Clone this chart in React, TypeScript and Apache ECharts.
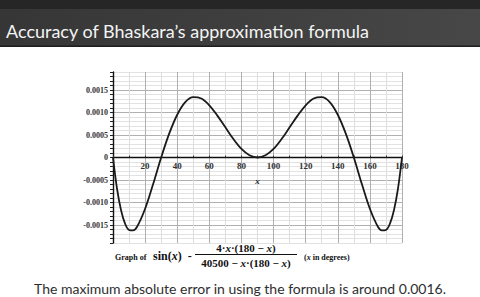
import React, { useEffect, useRef } from "react";
import * as echarts from "echarts";

// Degrees (x) and error values
const xDegrees = [0, 2.5, 5, 7.5, 10, 12.5, 15, 20, 25, 30, 35, 40, 45, 50, 55, 60, 65, 70, 75, 80, 85, 90,
  95, 100, 105, 110, 115, 120, 125, 130, 135, 140, 145, 150, 155, 160, 165, 167.5, 170, 172.5, 175, 177.5, 180];
const errorValues = [0, -0.00069, -0.00117, -0.00147, -0.00161, -0.00162, -0.00154, -0.00114, -0.00059, 0,
  0.00053, 0.00095, 0.00123, 0.00134, 0.00131, 0.00116, 0.00093, 0.00067, 0.00041, 0.00019, 0.00005, 0,
  0.00005, 0.00019, 0.00041, 0.00067, 0.00093, 0.00116, 0.00131, 0.00134, 0.00123, 0.00095, 0.00053, 0,
  -0.00059, -0.00114, -0.00154, -0.00162, -0.00161, -0.00147, -0.00117, -0.00069, 0];

const titleText = "Accuracy of Bhaskara\u2019s approximation formula";
const captionText = "The maximum absolute error in using the formula is around 0.0016.";

export default function App() {
  const ref = useRef<HTMLDivElement>(null);
  useEffect(() => {
    if (!ref.current) return;
    const chart = echarts.init(ref.current, undefined, { renderer: "svg" });
    const seriesData = xDegrees.map((x, i) => [x, errorValues[i]]);
    const serif = "'Liberation Serif', 'DejaVu Serif', serif";
    chart.setOption({
      animation: false,
      backgroundColor: "#ffffff",
      grid: { left: 113, top: 72, width: 289, height: 171 },
      xAxis: {
        type: "value",
        min: 0,
        max: 180,
        interval: 10,
        position: "bottom",
        offset: -85.5,
        name: "x",
        nameLocation: "middle",
        nameGap: 19,
        nameTextStyle: { fontFamily: serif, fontStyle: "italic", fontWeight: "bold", fontSize: 9, color: "#222" },
        axisLine: { onZero: false, lineStyle: { color: "#111", width: 1.4 } },
        axisTick: { show: true, length: 2, inside: true, lineStyle: { color: "#333" } },
        axisLabel: {
          margin: 4,
          fontFamily: serif,
          fontSize: 9,
          fontWeight: "bold",
          color: "#333",
          formatter: (v: number) => (v !== 0 && Math.round(v) % 20 === 0 ? String(Math.round(v)) : ""),
        },
        splitLine: { show: true, lineStyle: { color: ["#b0b0b0", "#dedede"], width: 1 } },
      },
      yAxis: {
        type: "value",
        min: -0.0019,
        max: 0.0019,
        interval: 0.0001,
        axisLine: { show: true, lineStyle: { color: "#111", width: 1.4 } },
        axisTick: { show: true, length: 3, lineStyle: { color: "#222" } },
        axisLabel: {
          margin: 5,
          fontFamily: serif,
          fontSize: 8,
          fontWeight: "bold",
          color: "#333",
          formatter: (v: number) => {
            const n = Math.round(v * 10000);
            if (n % 5 !== 0) return "";
            if (n === 0) return "0";
            return (n / 10000).toFixed(4);
          },
        },
        splitLine: {
          show: true,
          lineStyle: { color: ["#e2e2e2", "#e2e2e2", "#e2e2e2", "#e2e2e2", "#b0b0b0"], width: 1 },
        },
      },
      series: [
        {
          type: "line",
          data: seriesData,
          smooth: 0.35,
          showSymbol: false,
          lineStyle: { color: "#1a1a1a", width: 1.8 },
        },
      ],
      graphic: [
        { type: "rect", shape: { x: 0, y: 0, width: 480, height: 9 }, style: { fill: "#262626" } },
        {
          type: "rect",
          shape: { x: 0, y: 9, width: 480, height: 37 },
          style: {
            fill: new echarts.graphic.LinearGradient(0, 0, 1, 0, [
              { offset: 0, color: "#363636" },
              { offset: 1, color: "#474747" },
            ]),
          },
        },
        { type: "rect", shape: { x: 0, y: 45.5, width: 480, height: 1.5 }, style: { fill: "#1e1e1e" } },
        {
          type: "text",
          x: 6,
          y: 31,
          style: {
            text: titleText,
            fill: "#f4f4f4",
            font: "18px Lato, 'Open Sans', sans-serif",
            verticalAlign: "middle",
          },
        },
        {
          type: "text",
          x: 115,
          y: 257,
          style: { text: "Graph of", fill: "#111", font: `bold 8px ${serif}`, verticalAlign: "middle" },
        },
        {
          type: "text",
          x: 153,
          y: 256,
          style: {
            text: "sin({i|x})  -",
            fill: "#111",
            font: `bold 12px ${serif}`,
            verticalAlign: "middle",
            rich: { i: { fontStyle: "italic", fontWeight: "bold", fontSize: 12, fontFamily: serif } },
          },
        },
        {
          type: "text",
          x: 246,
          y: 247.5,
          style: {
            text: "4\u00b7{i|x}\u00b7(180 \u2212 {i|x})",
            fill: "#111",
            font: `bold 11px ${serif}`,
            align: "center",
            verticalAlign: "middle",
            rich: { i: { fontStyle: "italic", fontWeight: "bold", fontSize: 11, fontFamily: serif } },
          },
        },
        { type: "line", shape: { x1: 195, y1: 254.5, x2: 297, y2: 254.5 }, style: { stroke: "#111", lineWidth: 1 } },
        {
          type: "text",
          x: 246,
          y: 263,
          style: {
            text: "40500 \u2212 {i|x}\u00b7(180 \u2212 {i|x})",
            fill: "#111",
            font: `bold 11px ${serif}`,
            align: "center",
            verticalAlign: "middle",
            rich: { i: { fontStyle: "italic", fontWeight: "bold", fontSize: 11, fontFamily: serif } },
          },
        },
        {
          type: "text",
          x: 304,
          y: 257,
          style: {
            text: "({i|x} in degrees)",
            fill: "#111",
            font: `bold 8px ${serif}`,
            verticalAlign: "middle",
            rich: { i: { fontStyle: "italic", fontWeight: "bold", fontSize: 8, fontFamily: serif } },
          },
        },
        {
          type: "text",
          x: 240,
          y: 288,
          style: {
            text: captionText,
            fill: "#2e2e2e",
            font: "14px Lato, 'Open Sans', sans-serif",
            align: "center",
            verticalAlign: "middle",
          },
        },
      ],
    });
    return () => chart.dispose();
  }, []);
  return (
    <div
      ref={ref}
      style={{ position: "fixed", left: 0, top: 0, width: 480, height: 297 }}
    />
  );
}
